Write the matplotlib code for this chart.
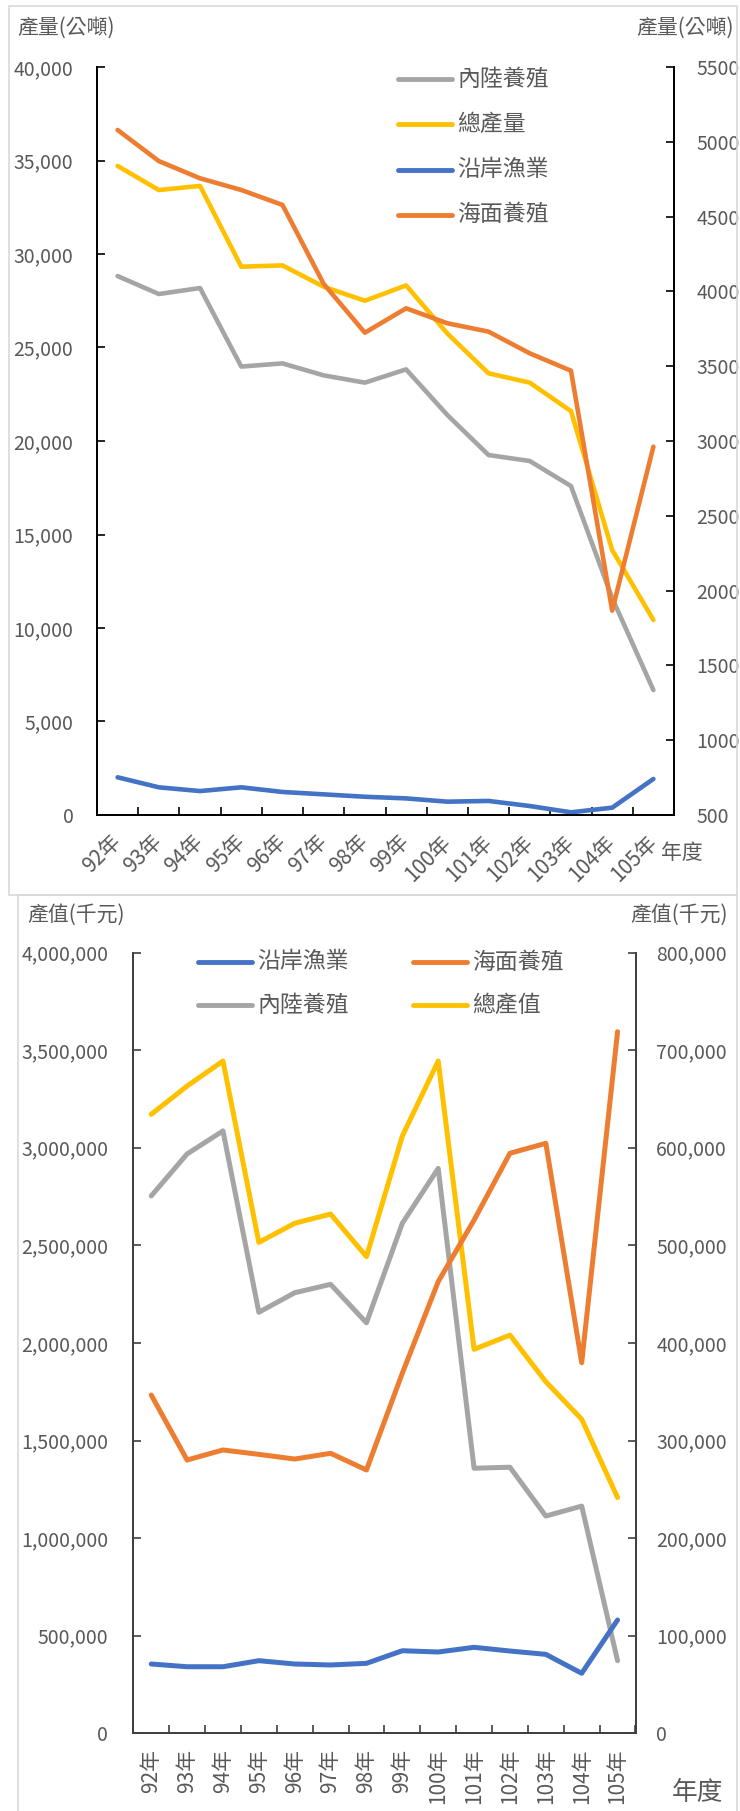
import numpy as np
import matplotlib.pyplot as plt
from matplotlib.patches import Rectangle
from matplotlib.ticker import FuncFormatter, MultipleLocator

plt.rcParams['font.family'] = ['Noto Sans CJK TC', 'DejaVu Sans']

# 年度
years = ['92年', '93年', '94年', '95年', '96年', '97年', '98年',
         '99年', '100年', '101年', '102年', '103年', '104年', '105年']

# 產量(公噸) -- 內陸養殖/總產量 on the left axis, 沿岸漁業/海面養殖 on the right axis
inland_t = [28820, 27860, 28180, 23980, 24150, 23510, 23120,
            23830, 21390, 19250, 18930, 17590, 11600, 6680]
total_t = [34710, 33420, 33640, 29320, 29390, 28250, 27500,
           28320, 25750, 23620, 23120, 21600, 14170, 10430]
coastal_t = [752, 685, 660, 685, 654, 638, 622, 611, 589, 594, 560, 518, 549, 741]
marine_t = [5079, 4871, 4756, 4678, 4578, 4050, 3724,
            3887, 3787, 3731, 3586, 3470, 1866, 2962]

# 產值(千元) -- same split between the two axes
inland_v = [2753000, 2968000, 3086000, 2157000, 2257000, 2300000, 2103000,
            2613000, 2894000, 1358000, 1363000, 1113000, 1164000, 372000]
total_v = [3171000, 3316000, 3444000, 2515000, 2613000, 2660000, 2442000,
           3060000, 3444000, 1967000, 2040000, 1801000, 1609000, 1208000]
coastal_v = [71000, 68200, 68200, 74400, 71000, 70000, 71700,
             84600, 83300, 88100, 84300, 80900, 61500, 116100]
marine_v = [346600, 280000, 290300, 285800, 281000, 286900, 269800,
            369000, 462700, 525900, 594300, 604500, 379700, 718800]

BLUE, ORANGE, GRAY, GOLD = '#4472C4', '#ED7D31', '#A5A5A5', '#FFC000'
TXT = '#595959'

W, H = 740, 1811
fig = plt.figure(figsize=(W / 100, H / 100), dpi=100)


def box(l, t, r, b):
    return [l / W, 1 - b / H, (r - l) / W, (b - t) / H]


comma = FuncFormatter(lambda v, p: f'{v:,.0f}')
x = np.arange(len(years))


def setup(ax, axr, spine_col, ylab_pad, ryl_pad, xpad, xrot):
    for a in (ax, axr):
        a.spines['top'].set_visible(False)
        for s in ('left', 'right', 'bottom'):
            a.spines[s].set_color(spine_col)
            a.spines[s].set_linewidth(1.3)
        a.tick_params(axis='y', direction='in', length=6, width=1.2,
                      color=spine_col, labelcolor=TXT, labelsize=14)
    ax.tick_params(axis='y', pad=ylab_pad)
    axr.tick_params(axis='y', pad=ryl_pad)
    ax.set_xlim(-0.5, len(years) - 0.5)
    ax.set_xticks(np.arange(-0.5, len(years), 1))
    ax.set_xticklabels([])
    ax.tick_params(axis='x', which='major', direction='in', length=6,
                   width=1.2, color=spine_col)
    ax.set_xticks(x, years, minor=True)
    ax.tick_params(axis='x', which='minor', length=0, pad=xpad,
                   labelcolor=TXT, labelsize=15)
    for lbl in ax.get_xticklabels(minor=True):
        lbl.set_rotation(xrot)
        if xrot == 45:
            lbl.set_ha('right')
            lbl.set_va('center')
            lbl.set_rotation_mode('anchor')
        else:
            lbl.set_ha('center')
            lbl.set_va('top')


# ---- 產量 chart ----
ax1 = fig.add_axes(box(97, 67, 674, 815))
ax1r = ax1.twinx()
setup(ax1, ax1r, '#000000', 17, 16, 17, 45)
ax1.set_ylim(0, 40000)
ax1.yaxis.set_major_locator(MultipleLocator(5000))
ax1.yaxis.set_major_formatter(comma)
ax1r.set_ylim(500, 5500)
ax1r.yaxis.set_major_locator(MultipleLocator(500))

lw = 3.3
ax1.plot(x, inland_t, color=GRAY, lw=lw, solid_capstyle='round', solid_joinstyle='round')
ax1.plot(x, total_t, color=GOLD, lw=lw, solid_capstyle='round', solid_joinstyle='round')
ax1r.plot(x, coastal_t, color=BLUE, lw=lw, solid_capstyle='round', solid_joinstyle='round')
ax1r.plot(x, marine_t, color=ORANGE, lw=lw, solid_capstyle='round', solid_joinstyle='round')

# ---- 產值 chart ----
ax2 = fig.add_axes(box(133.3, 952.5, 635.5, 1733.3))
ax2r = ax2.twinx()
setup(ax2, ax2r, '#404040', 18, 15, 11, 90)
ax2.set_ylim(0, 4000000)
ax2.yaxis.set_major_locator(MultipleLocator(500000))
ax2.yaxis.set_major_formatter(comma)
ax2r.set_ylim(0, 800000)
ax2r.yaxis.set_major_locator(MultipleLocator(100000))
ax2r.yaxis.set_major_formatter(comma)

lw2 = 3.6
ax2.plot(x, inland_v, color=GRAY, lw=lw2, solid_capstyle='round', solid_joinstyle='round')
ax2.plot(x, total_v, color=GOLD, lw=lw2, solid_capstyle='round', solid_joinstyle='round')
ax2r.plot(x, coastal_v, color=BLUE, lw=lw2, solid_capstyle='round', solid_joinstyle='round')
ax2r.plot(x, marine_v, color=ORANGE, lw=lw2, solid_capstyle='round', solid_joinstyle='round')

# ---- overlay in pixel units: frames, titles, legends ----
ov = fig.add_axes([0, 0, 1, 1], zorder=10)
ov.set_xlim(0, W)
ov.set_ylim(H, 0)
ov.axis('off')
ov.patch.set_alpha(0)

ov.add_patch(Rectangle((9, 6), 728, 889, fill=False, ec='#D9D9D9', lw=1.2))
ov.add_patch(Rectangle((18, 895), 719, 930, fill=False, ec='#D9D9D9', lw=1.2))

ov.text(17, 28, '產量(公噸)', color=TXT, fontsize=15, ha='left', va='center')
ov.text(734, 28, '產量(公噸)', color=TXT, fontsize=15, ha='right', va='center')
ov.text(661, 853, '年度', color=TXT, fontsize=15, ha='left', va='center')

ov.text(27, 915, '產值(千元)', color=TXT, fontsize=15, ha='left', va='center')
ov.text(728, 915, '產值(千元)', color=TXT, fontsize=15, ha='right', va='center')
ov.text(672, 1793, '年度', color=TXT, fontsize=18.5, ha='left', va='center')


def legend_item(x0, y0, color, label):
    ov.plot([x0, x0 + 54], [y0, y0], color=color, lw=3.5, solid_capstyle='round')
    ov.text(x0 + 59, y0, label, color=TXT, fontsize=16.5, ha='left', va='center')


for i, (c, lab) in enumerate([(GRAY, '內陸養殖'), (GOLD, '總產量'),
                              (BLUE, '沿岸漁業'), (ORANGE, '海面養殖')]):
    legend_item(398, 79 + i * 45.3, c, lab)

legend_item(198, 962, BLUE, '沿岸漁業')
legend_item(413, 962, ORANGE, '海面養殖')
legend_item(198, 1005, GRAY, '內陸養殖')
legend_item(413, 1005, GOLD, '總產值')

fig.savefig('out.png', dpi=100)
